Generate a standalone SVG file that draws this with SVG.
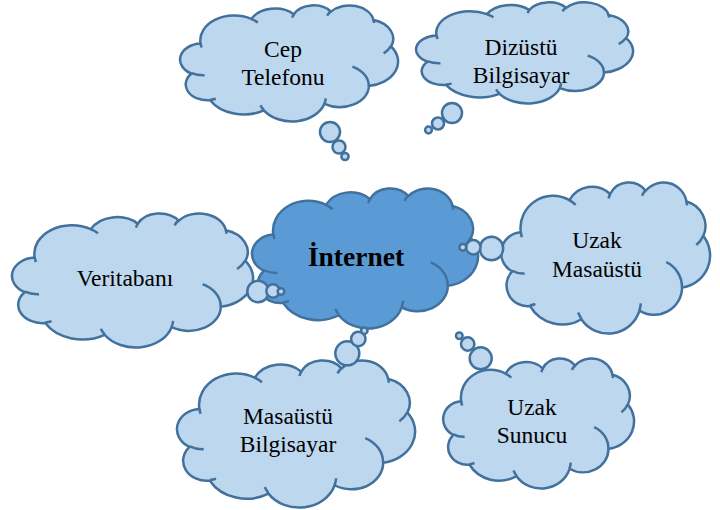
<svg xmlns="http://www.w3.org/2000/svg" xmlns:xlink="http://www.w3.org/1999/xlink" width="720" height="510" viewBox="0 0 720 510">
<style>
.cl{fill:#BDD7EE;stroke:#41719C;stroke-width:2.5}
.ci{fill:#5B9BD5;stroke:#41719C;stroke-width:2.5}
.cr{fill:none;stroke:#41719C;stroke-width:2.5}
.b{fill:#BDD7EE;stroke:#41719C;stroke-width:2.5}
.t{font-family:"Liberation Serif","Times New Roman",serif;font-size:23.5px;fill:#000;text-anchor:middle}
.tb{font-family:"Liberation Serif","Times New Roman",serif;font-size:27.5px;font-weight:bold;fill:#000;text-anchor:middle}
</style>
<defs>
<path id="cloud" vector-effect="non-scaling-stroke" d="M 9.028 33.264 A 15.632 21.273 0 0 1 32.420 12.043 A 12.345 16.822 0 0 1 51.984 7.941 A 10.104 13.762 0 0 1 69.064 5.745 A 11.243 15.266 0 0 1 88.704 12.912 A 12.345 16.836 0 0 1 96.807 35.792 A 15.683 21.343 0 0 1 86.585 69.912 A 13.391 18.211 0 0 1 66.104 85.214 A 15.630 21.331 0 0 1 38.152 90.891 A 17.870 24.405 0 0 1 13.437 82.106 A 10.093 13.699 0 0 1 4.890 59.143 A 10.058 13.762 0 0 1 9.028 33.264 Z"/>
<path id="crease" vector-effect="non-scaling-stroke" d="M 10.863 60.595 A 10.058 13.762 0 0 1 4.998 58.749 M 16.037 80.785 A 10.093 13.699 0 0 1 13.472 81.668 M 38.144 90.486 A 15.630 21.331 0 0 1 36.597 86.458 M 66.729 80.442 A 15.630 21.331 0 0 1 66.112 84.860 M 79.002 53.134 A 13.391 18.211 0 0 1 86.529 69.652 M 96.755 35.542 A 12.345 16.836 0 0 1 93.403 41.735 M 88.713 12.560 A 11.243 15.266 0 0 1 88.890 15.485 M 67.310 9.148 A 11.243 15.266 0 0 1 69.030 5.411 M 51.252 10.926 A 10.104 13.762 0 0 1 52.084 7.708 M 32.407 12.019 A 15.632 21.273 0 0 1 35.415 15.139 M 9.553 36.549 A 15.632 21.273 0 0 1 9.029 33.267"/>
</defs>

<g id="internet">
<use xlink:href="#cloud" class="ci" transform="translate(253 188) scale(2.25 1.40)"/>
<use xlink:href="#crease" class="cr" transform="translate(253 188) scale(2.25 1.40)"/>
<text class="tb" x="356" y="266">İnternet</text>
</g>

<g id="cep-telefonu">
<use xlink:href="#cloud" class="cl" transform="translate(181 5) scale(2.17 1.16)"/>
<use xlink:href="#crease" class="cr" transform="translate(181 5) scale(2.17 1.16)"/>
<circle class="b" cx="330" cy="132" r="10"/>
<circle class="b" cx="339" cy="147" r="6.5"/>
<circle class="b" cx="345" cy="156.5" r="3.6"/>
<text class="t" x="283" y="57">Cep</text>
<text class="t" x="283" y="85">Telefonu</text>
</g>

<g id="dizustu-bilgisayar">
<use xlink:href="#cloud" class="cl" transform="translate(417 2) scale(2.16 1.01)"/>
<use xlink:href="#crease" class="cr" transform="translate(417 2) scale(2.16 1.01)"/>
<circle class="b" cx="452" cy="113" r="10"/>
<circle class="b" cx="438" cy="123.5" r="6"/>
<circle class="b" cx="428.5" cy="130" r="3.4"/>
<text class="t" x="521" y="55">Dizüstü</text>
<text class="t" x="521" y="83">Bilgisayar</text>
</g>

<g id="veritabani">
<use xlink:href="#cloud" class="cl" transform="translate(13 213) scale(2.40 1.34)"/>
<use xlink:href="#crease" class="cr" transform="translate(13 213) scale(2.40 1.34)"/>
<circle class="b" cx="258" cy="291.5" r="10.7"/>
<circle class="b" cx="273" cy="291" r="6.7"/>
<circle class="b" cx="281" cy="291.5" r="3.3"/>
<text class="t" x="125" y="286">Veritabanı</text>
</g>

<g id="uzak-masaustu">
<use xlink:href="#cloud" class="cl" transform="translate(502 182) scale(2.08 1.51)"/>
<use xlink:href="#crease" class="cr" transform="translate(502 182) scale(2.08 1.51)"/>
<circle class="b" cx="491.5" cy="248.5" r="11.7"/>
<circle class="b" cx="473.3" cy="247.3" r="7.2"/>
<circle class="b" cx="462.8" cy="247.3" r="3.4"/>
<text class="t" x="597" y="248">Uzak</text>
<text class="t" x="597" y="277">Masaüstü</text>
</g>

<g id="masaustu-bilgisayar">
<use xlink:href="#cloud" class="cl" transform="translate(178 360) scale(2.37 1.47)"/>
<use xlink:href="#crease" class="cr" transform="translate(178 360) scale(2.37 1.47)"/>
<circle class="b" cx="347.3" cy="353.3" r="12"/>
<circle class="b" cx="358.3" cy="339" r="7.2"/>
<circle class="b" cx="364.3" cy="330.7" r="3.2"/>
<text class="t" x="288" y="424">Masaüstü</text>
<text class="t" x="288" y="452">Bilgisayar</text>
</g>

<g id="uzak-sunucu">
<use xlink:href="#cloud" class="cl" transform="translate(444 358) scale(1.90 1.30)"/>
<use xlink:href="#crease" class="cr" transform="translate(444 358) scale(1.90 1.30)"/>
<circle class="b" cx="480.7" cy="358.3" r="11"/>
<circle class="b" cx="467.7" cy="344" r="6.7"/>
<circle class="b" cx="459.3" cy="335.7" r="3.3"/>
<text class="t" x="532" y="415">Uzak</text>
<text class="t" x="532" y="443">Sunucu</text>
</g>

<g id="connectors"></g>
</svg>
